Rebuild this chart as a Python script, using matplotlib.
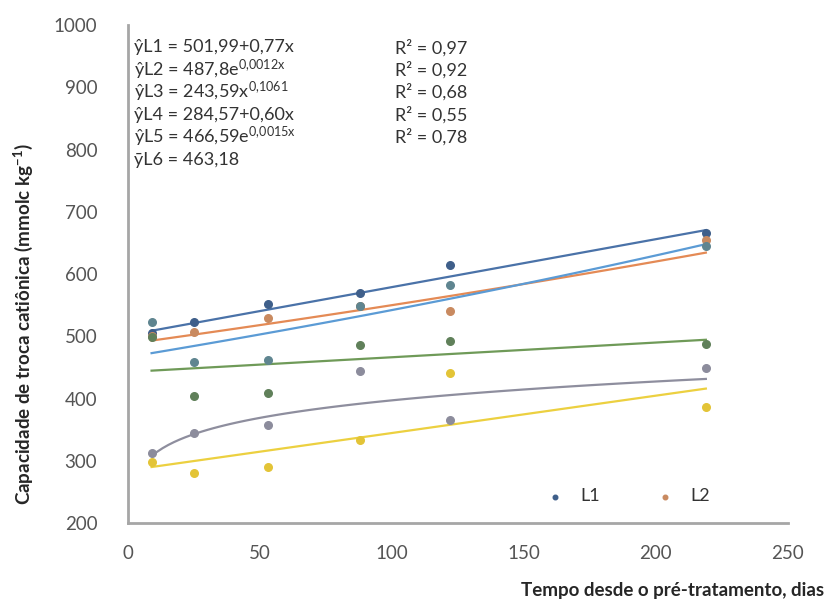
import matplotlib.pyplot as plt
import numpy as np

plt.rcParams['font.family'] = ['Lato', 'DejaVu Sans']
plt.rcParams['mathtext.default'] = 'regular'

# dias desde o pre-tratamento
dias = np.array([9, 25, 53, 88, 122, 219])

L1 = [505, 523, 552, 569, 614, 666]
L2 = [500, 507, 529, 549, 540, 655]
L3 = [312, 345, 357, 444, 365, 449]
L4 = [298, 280, 290, 333, 441, 386]
L5 = [523, 459, 462, 549, 582, 645]
L6 = [499, 404, 409, 486, 492, 488]

nomes = ['L1', 'L2', 'L3', 'L4', 'L5', 'L6']
cor_ponto = ['#3f5f8a', '#c98a60', '#8c8c9c', '#e3c437', '#5f8590', '#60805a']
cor_linha = ['#4a72a8', '#e48a55', '#8e8e9e', '#ecd040', '#5b9bd5', '#6f9a58']

equacoes = [r'ŷL1 = 501,99+0,77x',
            r'ŷL2 = 487,8e$^{0{,}0012x}$',
            r'ŷL3 = 243,59x$^{0{,}1061}$',
            r'ŷL4 = 284,57+0,60x',
            r'ŷL5 = 466,59e$^{0{,}0015x}$',
            r'ȳL6 = 463,18']
r2 = ['R² = 0,97', 'R² = 0,92', 'R² = 0,68', 'R² = 0,55', 'R² = 0,78']

fig = plt.figure(figsize=(8.3, 6.12), dpi=100)
ax = fig.add_axes([0.154, 0.1454, 0.795, 0.8136])

xx = np.linspace(dias[0], dias[-1], 100)
tend = [501.99 + 0.77 * xx,
        487.8 * np.exp(0.0012 * xx),
        243.59 * xx ** 0.1061,
        284.57 + 0.60 * xx,
        466.59 * np.exp(0.0015 * xx)]
a, b = np.polyfit(dias, L6, 1)
tend.append(b + a * xx)

series = [L1, L2, L3, L4, L5, L6]
for i in range(6):
    ax.plot(xx, tend[i], color=cor_linha[i], lw=1.6, zorder=2)
hs = []
for i in range(6):
    h = ax.scatter(dias, series[i], s=30, color=cor_ponto[i], zorder=3, label=nomes[i])
    hs.append(h)

ax.set_xlim(0, 250)
ax.set_ylim(200, 1000)
ax.set_xticks(range(0, 251, 50))
ax.set_yticks(range(200, 1001, 100))
ax.tick_params(length=0, labelsize=13.5, colors='#555555')
ax.tick_params(axis='y', pad=22)
ax.tick_params(axis='x', pad=16)
for s in ['top', 'right']:
    ax.spines[s].set_visible(False)
for s in ['left', 'bottom']:
    ax.spines[s].set_color('#a6a6a6')
    ax.spines[s].set_linewidth(2)

for i, t in enumerate(equacoes):
    ax.text(0.01, 0.955 - i * 0.045, t, transform=ax.transAxes, fontsize=13,
            color='#333333', va='center')
for i, t in enumerate(r2):
    ax.text(0.405, 0.955 - i * 0.045, t, transform=ax.transAxes, fontsize=13,
            color='#333333', va='center')

ax.legend(handles=hs[:2], ncol=2, frameon=False, loc='lower left',
          bbox_to_anchor=(0.595, 0.005), fontsize=13, columnspacing=2.6,
          handletextpad=0.4, markerscale=0.6, labelcolor='#333333')

fig.text(0.028, 0.47, 'Capacidade de troca catiônica (mmolc kg$^{-1}$)', rotation=90,
         ha='center', va='center', fontsize=13.5, fontweight='bold', color='#262626')
fig.text(0.993, 0.035, 'Tempo desde o pré-tratamento, dias', ha='right', va='center',
         fontsize=13.5, fontweight='bold', color='#262626')

fig.savefig('out.png', dpi=100)
